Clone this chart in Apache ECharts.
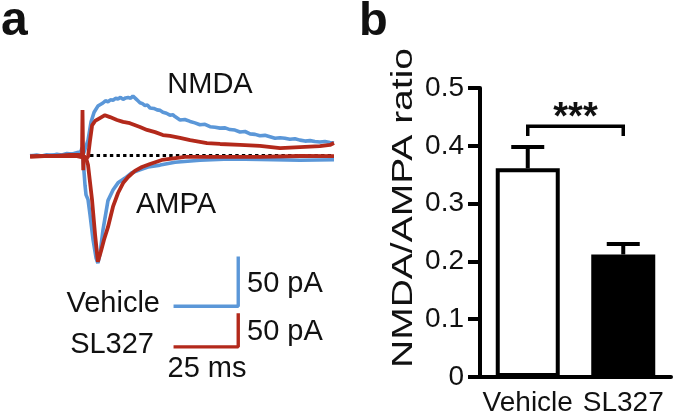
<!DOCTYPE html>
<html>
<head>
<meta charset="utf-8">
<script src="https://cdn.jsdelivr.net/npm/echarts@6/dist/echarts.min.js"></script>
<style>
html,body{margin:0;padding:0;background:#fff;}
#c{width:675px;height:420px;}
</style>
</head>
<body>
<div id="c"></div>
<script>
// ---------- Panel b data ----------
var categories = ['Vehicle', 'SL327'];
var ratioMean = [0.361, 0.212];
var ratioSem = [0.037, 0.018];
var yTicks = [0, 0.1, 0.2, 0.3, 0.4, 0.5];
var sigLabel = '***';
var sigLevel = 0.434;   // bracket height (ratio units)
var sigDrop = 0.017;

// ---------- Panel a data: [time (ms), current (pA)] ----------
var vehicleNMDA = [[-20.6,-0.5],[-18,0.5],[-16,-0.5],[-14,0.8],[-12,0],[-10,1.2],[-8,0.5],[-6,2],[-4,1.5],[-2,3],[-0.5,3.5],[0,8],[0.6,2],[1.2,0.5],[2.4,16],[3.6,35],[4.8,45],[6.3,51.5],[8.3,54.7],[9.3,57],[10.3,56],[11.3,58],[12.3,57.5],[13.3,59.5],[14.3,59],[15.3,60.5],[16.3,58.5],[17.3,60],[18.3,60.5],[19.3,59.5],[20.2,62],[21.4,59],[22.2,57],[23,55],[24,54],[25,52],[26,52.5],[27,49.5],[28.5,49],[29.8,47.5],[31,47],[32.1,45],[33.5,44],[34.9,42],[36,42.5],[36.9,40.5],[38.9,37],[40.8,37.5],[42.9,35.5],[44.8,34],[46.8,32],[48.8,32.5],[50.8,30],[52.8,29.5],[54.8,28.5],[56.8,28.8],[58.7,27],[60.7,26.5],[62.7,24.5],[64.7,25],[66.7,22.5],[68.7,22],[70.6,20.5],[72.6,21],[74.6,19.5],[76.6,18],[78.6,18.5],[80.5,18],[82.5,17],[84.5,17.5],[86.5,16],[88.5,15],[90.5,15.5],[92.4,14.5],[94.4,14],[96.4,14.5],[98.4,13.5],[100,13]];
var vehicleAMPA = [[-20.6,0],[-16,-0.8],[-12,0.5],[-8,0],[-4,1.5],[-1,2.5],[0,5],[0.4,-2.6],[1.2,-31],[1.6,-41],[2.4,-46],[3.2,-62],[4.4,-88],[5.6,-107],[6.3,-112],[7.1,-103],[8.3,-78],[10.3,-47],[12.3,-36],[14.3,-28.5],[17.1,-23.5],[19.8,-18],[23,-15],[26.2,-12],[31,-10],[36.9,-7],[46.8,-5],[58.7,-3.5],[70.6,-4],[86.5,-5],[100,-4.5]];
var sl327NMDA = [[-20.6,-2],[-15,-1],[-10,-0.5],[-5,0.8],[-1,0.8],[0,0],[0.2,71],[0.5,-23],[0.8,0],[1.2,-7],[2.4,-2],[3.2,24],[4.0,47],[5.2,54],[7.1,58.5],[9.1,63],[11.1,60],[13.9,55.5],[16.3,52.5],[19,50.5],[23,44.5],[25.8,40],[29,36.5],[32.1,32],[34.9,30.5],[38.9,27.5],[42.9,24],[49.6,19.5],[54.8,18],[62.7,16.5],[70.6,15],[78.6,11.5],[86.5,13],[94.4,14.5],[98.4,16.5],[100,19.5]];
var sl327AMPA = [[-20.6,-1],[-10,-0.8],[-2,-1],[1.6,-4],[2.4,-15],[4.0,-70],[5.2,-124],[6.3,-166],[7.5,-150],[8.7,-132],[10.3,-112],[12.3,-80],[14.3,-58.6],[16.3,-43],[18.3,-33.6],[21,-24],[23.8,-18],[27,-13.3],[31.7,-7],[40.9,-2.3],[54.8,-2.3],[70.6,-2],[86.5,-0.8],[100,-1]];
var baselineSpan = [3.2, 100];       // dotted zero line (ms)
var scaleTime = 25;                  // ms
var scaleCurrent = 50;               // pA
var scaleTimeStart = 37;             // ms
var vehicleScaleBase = -157;         // pA
var sl327ScaleBase = -299;           // pA

// ---------- layout ----------
var FONT = 'Liberation Sans, Arial, Helvetica, sans-serif';
var BLUE = '#5b97d8', RED = '#b3291b', INK = '#111';
var A_LEFT = 31.6, A_WIDTH = 302.4, A_TOP = 40, A_BOTTOM = 360, A_BASE = 155.5;
var PX_PER_PA_VEH = 0.96, PX_PER_PA_SL = 0.64;
var vehMax = (A_BASE - A_TOP) / PX_PER_PA_VEH, vehMin = -(A_BOTTOM - A_BASE) / PX_PER_PA_VEH;
var slMax = (A_BASE - A_TOP) / PX_PER_PA_SL, slMin = -(A_BOTTOM - A_BASE) / PX_PER_PA_SL;

function txt(t, x, y, align, size, weight, extra) {
  var o = {type:'text', x:x, y:y, silent:true,
    style:{text:t, fill:INK, font:(weight||'normal') + ' ' + size + 'px ' + FONT, align:align, verticalAlign:'middle'}};
  if (extra) for (var k in extra) o[k] = extra[k];
  return o;
}

var chart = echarts.init(document.getElementById('c'), null, {renderer:'canvas'});
var option = {
  animation:false,
  backgroundColor:'#fff',
  grid:[
    {left:480, top:88, width:191, height:289},
    {left:A_LEFT, top:A_TOP, width:A_WIDTH, height:A_BOTTOM - A_TOP}
  ],
  xAxis:[
    {type:'category', gridIndex:0, data:categories,
     axisLine:{lineStyle:{color:'#000', width:4}},
     axisTick:{alignWithLabel:true, length:11, lineStyle:{color:'#000', width:4}},
     axisLabel:{color:INK, fontSize:28, fontFamily:FONT, margin:12, interval:0, hideOverlap:false}},
    {type:'value', gridIndex:1, min:-20, max:100, show:false}
  ],
  yAxis:[
    {type:'value', gridIndex:0, min:yTicks[0], max:yTicks[yTicks.length-1], interval:0.1,
     splitLine:{show:false},
     axisLine:{show:true, lineStyle:{color:'#000', width:4}},
     axisTick:{show:true, length:12, lineStyle:{color:'#000', width:4}},
     axisLabel:{color:INK, fontSize:28, fontFamily:FONT, margin:16}},
    {type:'value', gridIndex:1, min:vehMin, max:vehMax, show:false},
    {type:'value', gridIndex:1, min:slMin, max:slMax, show:false}
  ],
  series:[
    {type:'bar', xAxisIndex:0, yAxisIndex:0, barWidth:64, z:3,
     data:ratioMean.map(function(v,i){return {value:v, itemStyle:{color: i===0 ? '#fff' : '#000'}};}),
     itemStyle:{borderColor:'#000', borderWidth:4}},
    {type:'custom', xAxisIndex:0, yAxisIndex:0, z:2,
     data:ratioMean.map(function(v,i){return [i, v, ratioSem[i]];}),
     renderItem:function(params, api){
       var i = api.value(0), m = api.value(1), e = api.value(2);
       var top = api.coord([i, m + e]), base = api.coord([i, m]);
       var hw = 16.5;
       return {type:'group', children:[
         {type:'line', shape:{x1:top[0], y1:base[1], x2:top[0], y2:top[1]}, style:{stroke:'#000', lineWidth:4}},
         {type:'line', shape:{x1:top[0]-hw, y1:top[1], x2:top[0]+hw, y2:top[1]}, style:{stroke:'#000', lineWidth:4}}
       ]};
     }},
    {type:'custom', xAxisIndex:0, yAxisIndex:0, z:2,
     data:[[0, 1, sigLevel, sigDrop]],
     renderItem:function(params, api){
       var a = api.coord([api.value(0), api.value(2)]);
       var b = api.coord([api.value(1), api.value(2)]);
       var d = api.coord([api.value(0), api.value(2) - api.value(3)]);
       return {type:'group', children:[
         {type:'polyline', shape:{points:[[a[0], d[1]], [a[0], a[1]], [b[0], a[1]], [b[0], d[1]]]},
          style:{stroke:'#000', lineWidth:3.5, fill:null}},
         {type:'text', x:(a[0]+b[0])/2, y:a[1]-8,
          style:{text:sigLabel, fill:INK, font:'bold 38px ' + FONT, align:'center', verticalAlign:'middle'}}
       ]};
     }},
    // panel a traces
    {type:'line', xAxisIndex:1, yAxisIndex:1, data:vehicleNMDA, symbol:'none', lineStyle:{color:BLUE, width:3.6}, z:2},
    {type:'line', xAxisIndex:1, yAxisIndex:1, data:vehicleAMPA, symbol:'none', lineStyle:{color:BLUE, width:3.6}, z:2},
    {type:'line', xAxisIndex:1, yAxisIndex:1, data:[[baselineSpan[0],0],[baselineSpan[1],0]], symbol:'none',
     lineStyle:{color:'#000', width:3, type:[3.4,3.2]}, z:3},
    {type:'line', xAxisIndex:1, yAxisIndex:2, data:sl327NMDA, symbol:'none', lineStyle:{color:RED, width:3.8}, z:4},
    {type:'line', xAxisIndex:1, yAxisIndex:2, data:sl327AMPA, symbol:'none', lineStyle:{color:RED, width:3.8}, z:4},
    // scale bars
    {type:'line', xAxisIndex:1, yAxisIndex:1, symbol:'none', lineStyle:{color:BLUE, width:3.4, cap:'square'},
     data:[[scaleTimeStart, vehicleScaleBase],[scaleTimeStart+scaleTime, vehicleScaleBase],[scaleTimeStart+scaleTime, vehicleScaleBase+scaleCurrent]]},
    {type:'line', xAxisIndex:1, yAxisIndex:2, symbol:'none', lineStyle:{color:RED, width:3.4, cap:'square'},
     data:[[scaleTimeStart, sl327ScaleBase],[scaleTimeStart+scaleTime, sl327ScaleBase],[scaleTimeStart+scaleTime, sl327ScaleBase+scaleCurrent]]}
  ],
  graphic:[
    txt('a', 1, 22, 'left', 48, 'bold'),
    txt('b', 359, 22, 'left', 47, 'bold'),
    txt('NMDA', 210, 85, 'center', 29),
    txt('AMPA', 176, 205, 'center', 29),
    txt('Vehicle', 160, 303.5, 'right', 29),
    txt('SL327', 154, 344.5, 'right', 29),
    txt(scaleCurrent + ' pA', 247, 283.5, 'left', 29),
    txt(scaleCurrent + ' pA', 247, 332, 'left', 29),
    txt(scaleTime + ' ms', 207, 368.5, 'center', 29),
    txt('NMDA/AMPA ratio', 404, 208, 'center', 30, 'normal', {rotation:Math.PI/2, scaleX:1.3})
  ]
};
chart.setOption(option);
</script>
</body>
</html>
